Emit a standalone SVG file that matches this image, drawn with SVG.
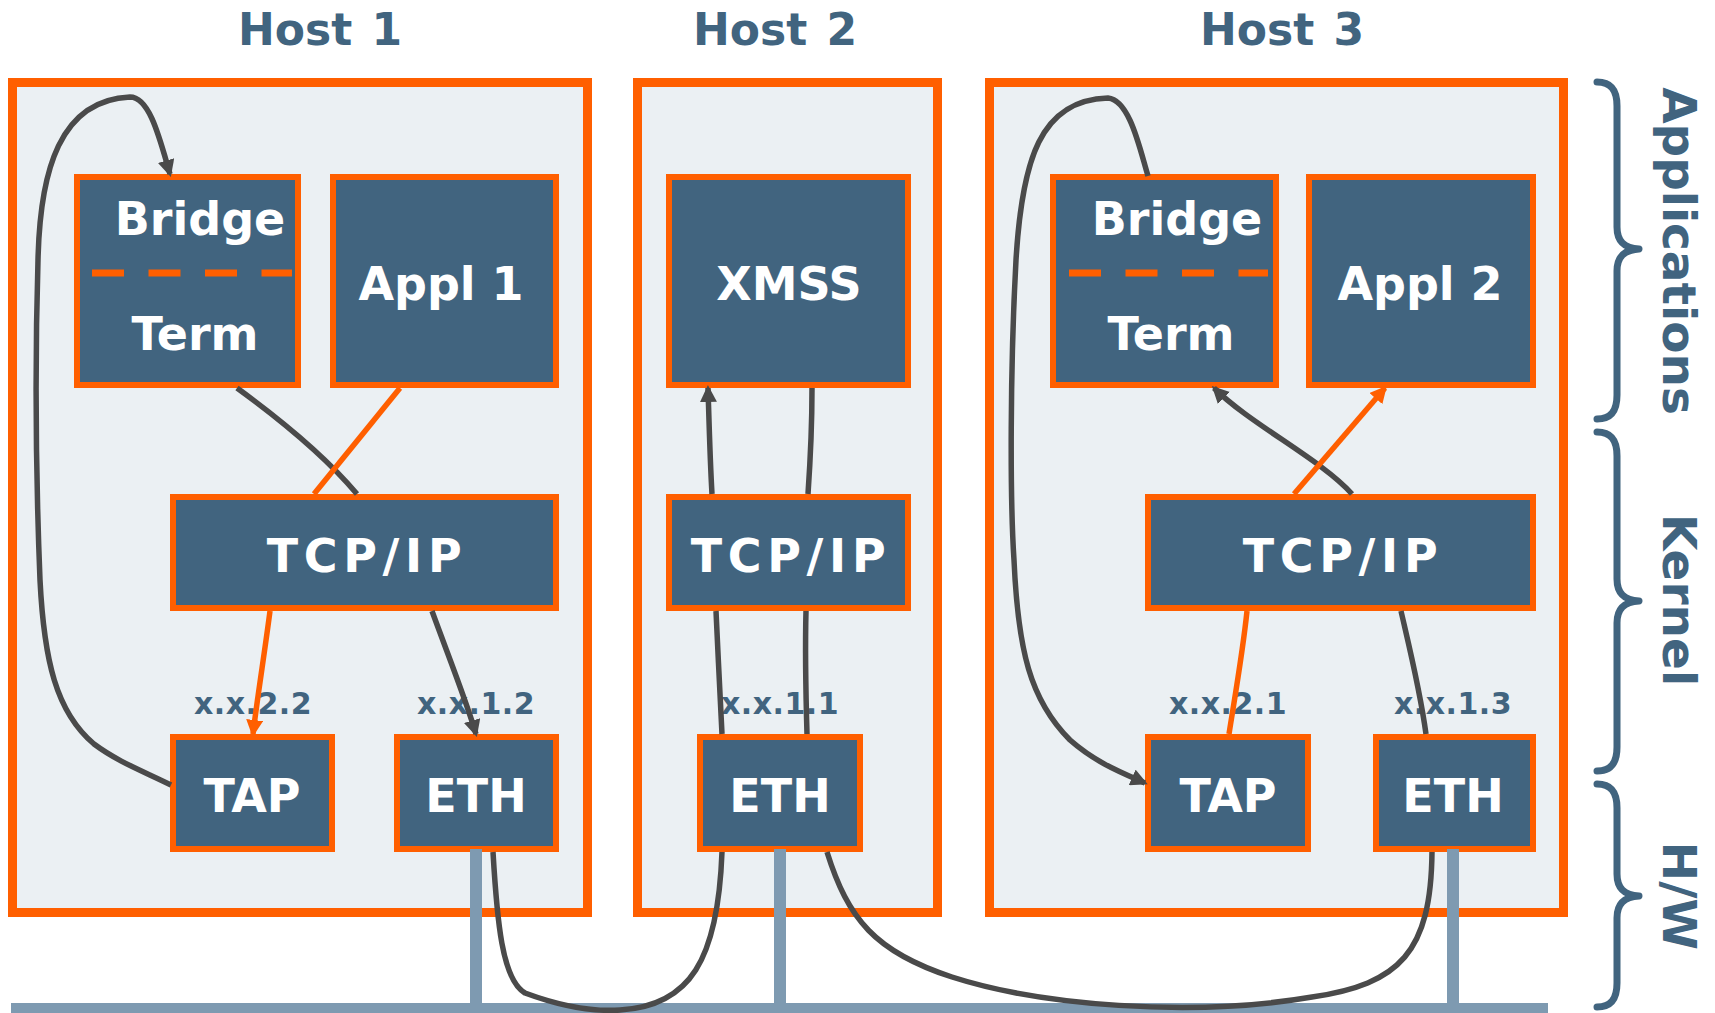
<svg xmlns="http://www.w3.org/2000/svg" width="1715" height="1013" viewBox="0 0 1715 1013">
<style>
.host{fill:#ebf0f3;stroke:#ff5f00;stroke-width:9}
.node{fill:#41647f;stroke:#ff5f00;stroke-width:6}
.t{font-family:"DejaVu Sans",Verdana,sans-serif;font-weight:bold;text-anchor:middle}
.lbl{font-size:46px;fill:#ffffff}
.title{font-size:44px;fill:#41647f;word-spacing:4px}
.addr{font-size:30px;fill:#41647f;letter-spacing:0.5px}
.side{font-size:47px;fill:#41647f}
.dash{stroke:#ff5f00;stroke-width:7;stroke-dasharray:32 24.5;fill:none}
.g{fill:none;stroke:#4a4a4a;stroke-width:5.5}
.o{fill:none;stroke:#ff5f00;stroke-width:5.5}
.bus{fill:#7e9ab1}
.brace{fill:none;stroke:#41647f;stroke-width:7;stroke-linecap:round;stroke-linejoin:round}
</style>
<defs>
<marker id="ag" markerUnits="userSpaceOnUse" markerWidth="17" markerHeight="17" viewBox="0 0 17 17" refX="14" refY="8.5" orient="auto"><path d="M0,0 L17,8.5 L0,17 z" fill="#4a4a4a"/></marker>
<marker id="ao" markerUnits="userSpaceOnUse" markerWidth="17" markerHeight="17" viewBox="0 0 17 17" refX="14" refY="8.5" orient="auto"><path d="M0,0 L17,8.5 L0,17 z" fill="#ff5f00"/></marker>
</defs>
<rect width="1715" height="1013" fill="#ffffff"/>

<g id="host1">
<text class="t title" x="320" y="45">Host 1</text>
<rect class="host" x="12.5" y="82.5" width="575" height="830"/>
</g>
<g id="host2">
<text class="t title" x="775" y="45">Host 2</text>
<rect class="host" x="637.5" y="82.5" width="300" height="830"/>
</g>
<g id="host3">
<text class="t title" x="1282" y="45">Host 3</text>
<rect class="host" x="989.5" y="82.5" width="574" height="830"/>
</g>

<g id="h1-bridge">
<rect class="node" x="77" y="177" width="221" height="208"/>
<text class="t lbl" x="200" y="235">Bridge</text>
<line class="dash" x1="92" y1="273" x2="292" y2="273"/>
<text class="t lbl" x="195" y="350">Term</text>
</g>
<g id="h1-appl1">
<rect class="node" x="333" y="177" width="223" height="208"/>
<text class="t lbl" x="441" y="300">Appl 1</text>
</g>
<g id="h1-tcpip">
<rect class="node" x="173" y="497" width="383" height="111"/>
<text class="t lbl" x="367" y="572" letter-spacing="5.7">TCP/IP</text>
</g>
<g id="h1-tap">
<text class="t addr" x="253" y="714">x.x.2.2</text>
<rect class="node" x="173" y="737" width="159" height="112"/>
<text class="t lbl" x="252" y="812">TAP</text>
</g>
<g id="h1-eth">
<text class="t addr" x="476" y="714">x.x.1.2</text>
<rect class="node" x="397" y="737" width="159" height="112"/>
<text class="t lbl" x="476" y="812">ETH</text>
</g>

<g id="h2-xmss">
<rect class="node" x="669" y="177" width="239" height="208"/>
<text class="t lbl" x="789" y="300">XMSS</text>
</g>
<g id="h2-tcpip">
<rect class="node" x="669" y="497" width="239" height="111"/>
<text class="t lbl" x="791" y="572" letter-spacing="5.7">TCP/IP</text>
</g>
<g id="h2-eth">
<text class="t addr" x="780" y="714">x.x.1.1</text>
<rect class="node" x="700" y="737" width="160" height="112"/>
<text class="t lbl" x="780" y="812">ETH</text>
</g>

<g id="h3-bridge">
<rect class="node" x="1053" y="177" width="223" height="208"/>
<text class="t lbl" x="1177" y="235">Bridge</text>
<line class="dash" x1="1069" y1="273" x2="1268" y2="273"/>
<text class="t lbl" x="1171" y="350">Term</text>
</g>
<g id="h3-appl2">
<rect class="node" x="1309" y="177" width="224" height="208"/>
<text class="t lbl" x="1420" y="300">Appl 2</text>
</g>
<g id="h3-tcpip">
<rect class="node" x="1148" y="497" width="385" height="111"/>
<text class="t lbl" x="1343" y="572" letter-spacing="5.7">TCP/IP</text>
</g>
<g id="h3-tap">
<text class="t addr" x="1228" y="714">x.x.2.1</text>
<rect class="node" x="1148" y="737" width="160" height="112"/>
<text class="t lbl" x="1228" y="812">TAP</text>
</g>
<g id="h3-eth">
<text class="t addr" x="1453" y="714">x.x.1.3</text>
<rect class="node" x="1376" y="737" width="157" height="112"/>
<text class="t lbl" x="1453" y="812">ETH</text>
</g>

<g id="bus">
<rect class="bus" x="11" y="1003" width="1537" height="10"/>
<rect class="bus" x="470" y="849" width="12" height="158"/>
<rect class="bus" x="774" y="849" width="12" height="158"/>
<rect class="bus" x="1447" y="849" width="12" height="158"/>
</g>

<g id="connectors">
<path class="g" d="M237,388 C270,412 320,450 357,494"/>
<path class="o" d="M400,388 L314,494"/>
<path class="o" d="M270,611 C265,650 257,700 253,734" marker-end="url(#ao)"/>
<path class="g" d="M432,611 C448,655 466,700 476,734" marker-end="url(#ag)"/>
<path class="g" d="M171,785 C145,772 118,762 94,744 C56,712 44,660 40,580 C36,480 35,360 38,260 C40,170 60,100 130,97 C150,97 160,140 170,174" marker-end="url(#ag)"/>
<path class="g" d="M493,852 C497,920 502,980 525,993 C560,1006 590,1012 620,1010 C690,1006 718,960 722,852"/>
<path class="g" d="M712,494 C710,460 709,420 708,388" marker-end="url(#ag)"/>
<path class="g" d="M812,388 C812,430 810,465 808,494"/>
<path class="g" d="M716,611 C718,650 720,700 722,734"/>
<path class="g" d="M806,611 C805,650 806,700 807,734"/>
<path class="g" d="M827,852 C848,919 875,952 952,977 C1039,1005 1190,1018 1312,997 C1400,984 1431,952 1432,852"/>
<path class="g" d="M1352,494 C1322,460 1250,424 1214,388" marker-end="url(#ag)"/>
<path class="o" d="M1294,494 L1385,388" marker-end="url(#ao)"/>
<path class="o" d="M1247,611 C1243,650 1236,690 1229,734"/>
<path class="g" d="M1401,611 C1410,650 1420,690 1426,734"/>
<path class="g" d="M1148,176 C1140,150 1130,100 1108,98 C1040,100 1022,160 1016,260 C1010,370 1010,500 1014,560 C1018,650 1030,700 1070,740 C1095,762 1120,772 1145,783" marker-end="url(#ag)"/>
</g>

<g id="layers">
<path class="brace" d="M1597,82 C1611,82 1617,90 1617,106 L1617,227 C1617,241 1624,248 1639,249 C1624,250 1617,257 1617,271 L1617,395 C1617,411 1611,419 1597,419"/>
<path class="brace" d="M1597,432 C1611,432 1617,440 1617,456 L1617,579 C1617,593 1624,600 1639,601 C1624,602 1617,609 1617,623 L1617,747 C1617,763 1611,771 1597,771"/>
<path class="brace" d="M1597,784 C1611,784 1617,792 1617,808 L1617,874 C1617,888 1624,895 1639,896 C1624,897 1617,904 1617,918 L1617,983 C1617,999 1611,1007 1597,1007"/>
<text class="t side" transform="translate(1663,251) rotate(90)">Applications</text>
<text class="t side" transform="translate(1663,600) rotate(90)">Kernel</text>
<text class="t side" transform="translate(1663,896) rotate(90)">H/W</text>
</g>
</svg>
